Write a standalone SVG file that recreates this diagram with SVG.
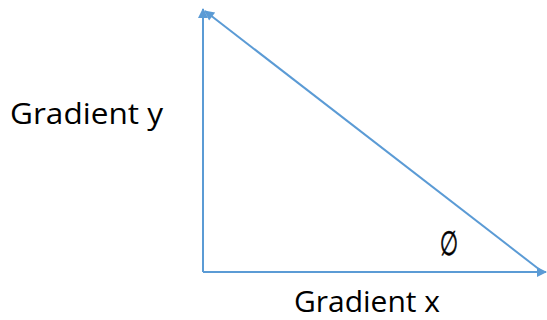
<svg xmlns="http://www.w3.org/2000/svg" width="547" height="320" viewBox="0 0 547 320">
<style>
.ln{stroke:#5B9BD5;stroke-width:2;fill:none}
.lbl{font-family:"Open Sans","Liberation Sans",sans-serif;font-size:29px;fill:#000}
</style>
<defs>
<marker id="ah" viewBox="0 0 10 10" refX="9" refY="5" markerWidth="6" markerHeight="5" markerUnits="strokeWidth" orient="auto">
<path d="M0,0 L10,5 L0,10 z" fill="#5B9BD5"/>
</marker>
</defs>
<rect width="547" height="320" fill="#fff"/>
<g id="connectors">
<line class="ln" x1="203" y1="272" x2="203" y2="9" marker-end="url(#ah)"/>
<line class="ln" x1="203" y1="272" x2="546" y2="272" marker-end="url(#ah)"/>
<line class="ln" x1="540" y1="270" x2="205" y2="11" marker-end="url(#ah)"/>
</g>
<g id="label-gy"><text class="lbl" x="10" y="124" textLength="153" lengthAdjust="spacingAndGlyphs">Gradient y</text></g>
<g id="label-gx"><text class="lbl" x="294" y="312" textLength="146" lengthAdjust="spacingAndGlyphs">Gradient x</text></g>
<g id="label-phi"><text transform="translate(449,255) scale(0.75,1.2)" text-anchor="middle" style="font-family:'DejaVu Sans',sans-serif;font-size:28px;font-style:italic;fill:#000;stroke:#000;stroke-width:0.5">∅</text></g>
</svg>
